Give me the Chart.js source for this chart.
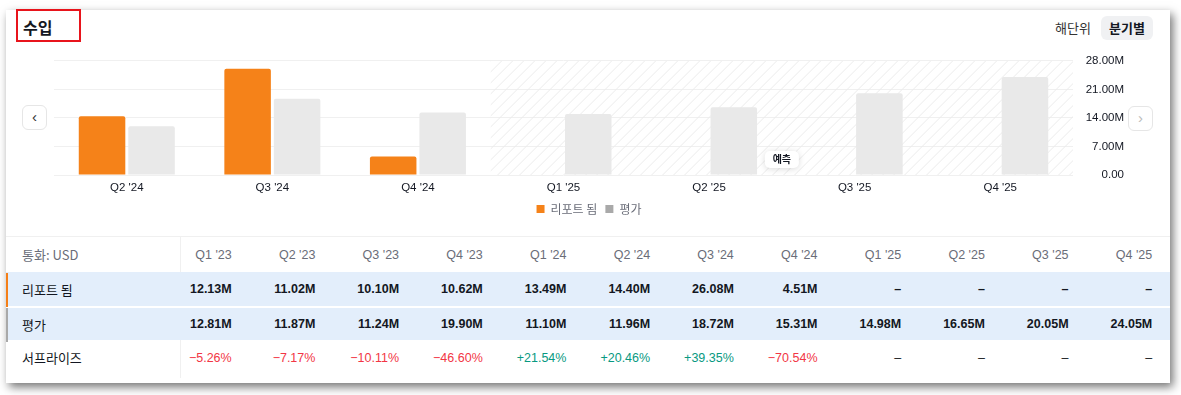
<!DOCTYPE html>
<html><head><meta charset="utf-8">
<script src="https://cdn.jsdelivr.net/npm/chart.js@4/dist/chart.umd.min.js"></script>
<style>
html,body{margin:0;padding:0;background:#fff;width:1181px;height:395px;overflow:hidden;font-family:"Liberation Sans","Noto Sans CJK KR",sans-serif;color:#131722;}
#card{position:absolute;left:6px;top:10px;width:1164px;height:373px;background:#fff;box-shadow:3px 4px 9px rgba(0,0,0,0.55);}
.abs{position:absolute;}
#title{left:23px;top:15px;font-size:16px;font-weight:bold;font-family:"Noto Sans CJK KR",sans-serif;}
#redbox{left:16px;top:9px;width:61px;height:29px;border:2px solid #e8141c;}
#unit{left:1055px;top:18px;font-size:13px;color:#333;font-family:"Noto Sans CJK KR",sans-serif;}
#qbtn{left:1101px;top:16px;width:52px;height:24px;background:#f0f1f3;border-radius:6px;font-size:13px;font-weight:bold;text-align:center;line-height:24px;font-family:"Noto Sans CJK KR",sans-serif;}
.nav{width:23px;height:23px;border:1px solid #e6e6e6;border-radius:6px;background:#fff;text-align:center;line-height:21px;font-size:15px;}
#cv{left:54px;top:44px;}
table{position:absolute;left:6px;top:236px;border-collapse:collapse;table-layout:fixed;width:1164px;font-size:12.5px;}
td{padding:0;text-align:right;white-space:nowrap;}
td.lab{text-align:left;padding-left:16px;font-family:"Noto Sans CJK KR",sans-serif;font-size:13px;}
tr.hd td{height:35px;color:#6a6d78;border-top:1px solid #f0f0f0;}
tr.r1 td{height:34px;background:#e3eefb;font-weight:bold;}
tr.r2 td{height:32px;background:#e3eefb;font-weight:bold;border-top:2px solid #fff;}
tr.r3 td{height:35px;}
#vdiv{left:180px;top:237px;width:1px;height:141px;background:#f0f0f0;}
#s1{left:6px;top:273px;width:2px;height:34px;background:#f57f17;}
#s2{left:6px;top:308px;width:2px;height:34px;background:#a9a9a9;}
.pos{color:#089981;font-weight:normal}
.neg{color:#f23645;font-weight:normal}
</style></head>
<body>
<div id="card"></div>
<div class="abs" id="title">수입</div>
<div class="abs" id="redbox"></div>
<div class="abs" id="unit">해단위</div>
<div class="abs" id="qbtn">분기별</div>
<div class="abs nav" style="left:22px;top:105px;color:#333">&#8249;</div>
<div class="abs nav" style="left:1128px;top:106px;color:#bbb">&#8250;</div>
<canvas id="cv" class="abs" width="1070" height="181" style="width:1070px;height:181px"></canvas>
<div class="abs" id="vdiv"></div>
<table id="tbl"></table>
<div class="abs" id="s1"></div>
<div class="abs" id="s2"></div>
<script>
const quarters = ["Q1 '23","Q2 '23","Q3 '23","Q4 '23","Q1 '24","Q2 '24","Q3 '24","Q4 '24","Q1 '25","Q2 '25","Q3 '25","Q4 '25"];
const reported = [12.13, 11.02, 10.10, 10.62, 13.49, 14.40, 26.08, 4.51, null, null, null, null];
const estimate = [12.81, 11.87, 11.24, 19.90, 11.10, 11.96, 18.72, 15.31, 14.98, 16.65, 20.05, 24.05];
const surprise = [-5.26, -7.17, -10.11, -46.60, 21.54, 20.46, 39.35, -70.54, null, null, null, null];
const yTicks = [0, 7, 14, 21, 28];
const chartStart = 5;
const seriesNames = ["리포트 됨", "평가"];

// table
const fmtM = v => v == null ? "–" : v.toFixed(2) + "M";
const fmtS = v => v == null ? "–" : (v > 0 ? '<span class="pos">+' + v.toFixed(2) + '%</span>' : '<span class="neg">−' + Math.abs(v).toFixed(2) + '%</span>');
let html = '<colgroup><col style="width:142px">' + quarters.map(() => '<col style="width:83.7px">').join('') + '<col></colgroup>';
html += '<tr class="hd"><td class="lab">통화: USD</td>' + quarters.map(q => '<td>' + q + '</td>').join('') + '<td></td></tr>';
html += '<tr class="r1"><td class="lab" style="font-weight:normal">' + seriesNames[0] + '</td>' + reported.map(v => '<td>' + fmtM(v) + '</td>').join('') + '<td></td></tr>';
html += '<tr class="r2"><td class="lab" style="font-weight:normal">' + seriesNames[1] + '</td>' + estimate.map(v => '<td>' + fmtM(v) + '</td>').join('') + '<td></td></tr>';
html += '<tr class="r3"><td class="lab">서프라이즈</td>' + surprise.map(v => '<td>' + fmtS(v) + '</td>').join('') + '<td></td></tr>';
document.getElementById('tbl').innerHTML = html;

const labels = quarters.slice(chartStart);
const repData = reported.slice(chartStart);
const estData = estimate.slice(chartStart);
const firstForecast = repData.findIndex(v => v == null);

const forecastPlugin = {
  id: 'forecast',
  beforeDatasetsDraw(chart) {
    const {ctx, chartArea: a, scales: {x}} = chart;
    const x0 = x.getPixelForValue(firstForecast - 0.5);
    ctx.save();
    ctx.beginPath(); ctx.rect(x0, a.top, a.right - x0, a.bottom - a.top); ctx.clip();
    ctx.strokeStyle = '#ebebeb'; ctx.lineWidth = 1;
    const h = a.bottom - a.top;
    for (let s = x0 - h; s < a.right + h; s += 11) {
      ctx.beginPath(); ctx.moveTo(s, a.bottom); ctx.lineTo(s + h, a.top); ctx.stroke();
    }
    ctx.restore();
  },
  afterDatasetsDraw(chart) {
    const {ctx, chartArea: a, scales: {x}} = chart;
    const x0 = x.getPixelForValue(firstForecast - 0.5);
    const cx = (x0 + a.right) / 2, cy = a.bottom - 16;
    ctx.save();
    ctx.shadowColor = 'rgba(0,0,0,0.15)'; ctx.shadowBlur = 6; ctx.shadowOffsetY = 1;
    ctx.fillStyle = '#fff';
    ctx.beginPath(); ctx.roundRect(cx - 17, cy - 8, 34, 17, 5); ctx.fill();
    ctx.shadowColor = 'transparent';
    ctx.fillStyle = '#131722'; ctx.font = 'bold 10px "Noto Sans CJK KR"';
    ctx.textAlign = 'center'; ctx.textBaseline = 'middle';
    ctx.fillText('예측', cx, cy + 0.5);
    ctx.restore();
  }
};

new Chart(document.getElementById('cv'), {
  type: 'bar',
  data: {
    labels: labels,
    datasets: [
      {label: seriesNames[0], data: repData, backgroundColor: '#f58219', borderRadius: 2, borderSkipped: 'bottom'},
      {label: seriesNames[1], data: estData, backgroundColor: '#e9e9e9', borderRadius: 2, borderSkipped: 'bottom'}
    ]
  },
  options: {
    responsive: false, animation: false, devicePixelRatio: 1,
    layout: {padding: {top: 3, left: 0, right: 0, bottom: 0}},
    categoryPercentage: 0.68, barPercentage: 0.94,
    plugins: {
      tooltip: {enabled: false},
      legend: {
        position: 'bottom',
        labels: {
          boxWidth: 8, boxHeight: 8, padding: 8, color: '#6a6d78',
          font: {size: 12, family: '"Noto Sans CJK KR"'},
          generateLabels(chart) {
            return chart.data.datasets.map((d, i) => ({
              text: d.label, fillStyle: i === 0 ? '#f58219' : '#a9a9a9', strokeStyle: 'transparent', lineWidth: 0, datasetIndex: i, fontColor: '#6a6d78'
            }));
          }
        }
      }
    },
    scales: {
      x: {
        grid: {display: false, drawTicks: false},
        border: {display: false},
        afterFit(s) { s.height = 20; },
        ticks: {color: '#131722', font: {size: 11.5, family: '"Liberation Sans"'}, padding: 6}
      },
      y: {
        position: 'right', min: 0, max: 28,
        afterBuildTicks(s) { s.ticks = yTicks.map(v => ({value: v})); },
        afterFit(s) { s.width = 51; },
        grid: {color: '#f0f0f0', drawTicks: false},
        border: {display: false},
        ticks: {
          color: '#131722', font: {size: 11.5, family: '"Liberation Sans"'}, padding: 10,
          crossAlign: 'far',
          callback: v => v === 0 ? '0.00' : v.toFixed(2) + 'M'
        }
      }
    }
  },
  plugins: [forecastPlugin]
});
</script>
</body></html>
